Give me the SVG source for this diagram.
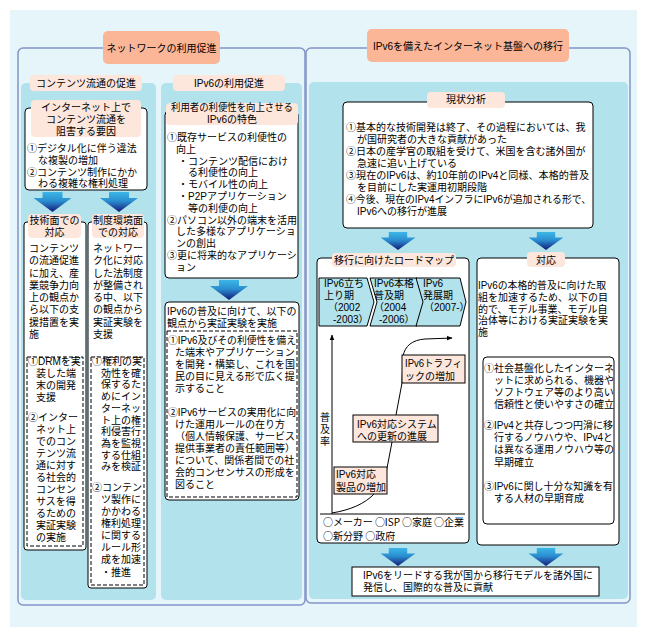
<svg xmlns="http://www.w3.org/2000/svg" width="647" height="637" viewBox="0 0 647 637">
<style>
.t{font-family:"Liberation Sans","Noto Sans CJK JP","Noto Sans CJK SC",sans-serif;font-size:10px;fill:#000}
.j{font-family:"Noto Sans CJK JP","Noto Sans CJK SC",sans-serif;font-size:10px;fill:#000}
.c{text-anchor:middle}
.frame{fill:none;stroke:#8394c8;stroke-width:1.5}
.sub{fill:#b2e2ec}
.title{fill:#fbb698}
.pill{fill:#fde6dc}
.box{fill:#fff;stroke:#000;stroke-width:1}
.dash{fill:none;stroke:#000;stroke-width:1;stroke-dasharray:4 2}
.rbox{fill:#fde6dc;stroke:#000;stroke-width:1}
.chev{fill:#b2e2ec;stroke:#000;stroke-width:1}
.ln{fill:none;stroke:#000;stroke-width:1}
</style>
<defs>
<linearGradient id="ag" x1="0" y1="0" x2="0" y2="1">
<stop offset="0" stop-color="#3cb6e6"/>
<stop offset="0.45" stop-color="#2a8ed0"/>
<stop offset="1" stop-color="#141a78"/>
</linearGradient>
<path id="arr" d="M-10,0 H10 V6 H19 L0,20 L-19,6 H-10 Z" fill="url(#ag)"/>
<marker id="mh" viewBox="0 0 10 10" refX="9" refY="5" markerWidth="6" markerHeight="6" orient="auto">
<path d="M0,1 L10,5 L0,9 Z" fill="#000"/>
</marker>
</defs>
<rect x="10" y="10" width="627" height="617" fill="#e5f5f9"/>

<g id="left-panel">
<rect class="frame" x="18" y="48" width="287" height="557" rx="5"/>
<rect class="sub" x="21" y="83" width="135" height="517" rx="5"/>
<rect class="sub" x="161" y="83" width="141" height="517" rx="5"/>
<rect class="title" x="103" y="31" width="117" height="33" rx="5"/>
<text class="t c" x="161.5" y="52">ネットワークの利用促進</text>
</g>

<g id="right-panel">
<rect class="frame" x="306" y="48" width="324" height="555" rx="5"/>
<rect class="sub" x="309" y="82" width="319" height="517" rx="5"/>
<rect class="title" x="367" y="29" width="202" height="33" rx="5"/>
<text class="t c" x="468" y="50">IPv6を備えたインターネット基盤への移行</text>
</g>

<g id="label-contents">
<rect class="pill" x="30" y="75" width="112" height="16" rx="4"/>
<text class="t c" x="86" y="87">コンテンツ流通の促進</text>
</g>
<g id="label-ipv6use">
<rect class="pill" x="173" y="75" width="112" height="16" rx="4"/>
<text class="t c" x="229" y="87">IPv6の利用促進</text>
</g>

<g id="node-obstacles">
<rect class="box" x="25" y="108" width="122" height="82" rx="4"/>
<rect class="pill" x="31" y="100" width="110" height="37" rx="4"/>
<text class="t c"><tspan x="86" y="111">インターネット上で</tspan><tspan x="86" y="123">コンテンツ流通を</tspan><tspan x="86" y="135">阻害する要因</tspan></text>
<text class="t"><tspan x="27" y="152">①デジタル化に伴う違法</tspan><tspan x="38" y="163.8">な複製の増加</tspan><tspan x="27" y="175.6">②コンテンツ制作にかか</tspan><tspan x="38" y="187.4">わる複雑な権利処理</tspan></text>
</g>

<g id="node-tech">
<rect class="box" x="24" y="222" width="62" height="328" rx="3"/>
<rect class="pill" x="28" y="214" width="53" height="24" rx="4"/>
<text class="t c"><tspan x="54.5" y="224">技術面での</tspan><tspan x="54.5" y="236">対応</tspan></text>
<text class="t"><tspan x="29" y="252">コンテンツ</tspan><tspan x="29" y="264">の流通促進</tspan><tspan x="29" y="277">に加え、産</tspan><tspan x="29" y="289">業競争力向</tspan><tspan x="29" y="301">上の観点か</tspan><tspan x="29" y="313">ら以下の支</tspan><tspan x="29" y="326">援措置を実</tspan><tspan x="29" y="338">施</tspan></text>
<rect class="dash" x="27" y="357" width="56" height="189"/>
<text class="t"><tspan x="28" y="365">①DRMを実</tspan><tspan x="36" y="377">装した端</tspan><tspan x="36" y="389">末の開発</tspan><tspan x="36" y="401">支援</tspan><tspan x="28" y="421">②インター</tspan><tspan x="36" y="433">ネット上</tspan><tspan x="36" y="445">でのコン</tspan><tspan x="36" y="457">テンツ流</tspan><tspan x="36" y="469">通に対す</tspan><tspan x="36" y="481">る社会的</tspan><tspan x="36" y="493">コンセン</tspan><tspan x="36" y="505">サスを得</tspan><tspan x="36" y="517">るための</tspan><tspan x="36" y="529">実証実験</tspan><tspan x="36" y="541">の実施</tspan></text>
</g>

<g id="node-law">
<rect class="box" x="88" y="222" width="59" height="366" rx="3"/>
<rect class="pill" x="92" y="214" width="52" height="24" rx="4"/>
<text class="t c"><tspan x="118" y="224">制度環境面</tspan><tspan x="118" y="236">での対応</tspan></text>
<text class="t"><tspan x="93" y="252">ネットワー</tspan><tspan x="93" y="264">ク化に対応</tspan><tspan x="93" y="277">した法制度</tspan><tspan x="93" y="289">が整備され</tspan><tspan x="93" y="301">る中、以下</tspan><tspan x="93" y="313">の観点から</tspan><tspan x="93" y="326">実証実験を</tspan><tspan x="93" y="338">支援</tspan></text>
<rect class="dash" x="91" y="357" width="53" height="228"/>
<text class="t"><tspan x="92" y="365">①権利の実</tspan><tspan x="101" y="376.7">効性を確</tspan><tspan x="101" y="388.4">保するた</tspan><tspan x="101" y="400.1">めにイン</tspan><tspan x="101" y="411.8">ターネッ</tspan><tspan x="101" y="423.5">ト上の権</tspan><tspan x="101" y="435.2">利侵害行</tspan><tspan x="101" y="446.9">為を監視</tspan><tspan x="101" y="458.6">する仕組</tspan><tspan x="101" y="470.3">みを検証</tspan></text>
<text class="t"><tspan x="92" y="491">②コンテン</tspan><tspan x="101" y="503">ツ製作に</tspan><tspan x="101" y="515">かかわる</tspan><tspan x="101" y="527">権利処理</tspan><tspan x="101" y="539">に関する</tspan><tspan x="101" y="551">ルール形</tspan><tspan x="101" y="563">成を加速</tspan><tspan x="101" y="576">・推進</tspan></text>
</g>

<g id="node-features">
<rect class="box" x="165" y="111" width="133" height="167" rx="4"/>
<rect class="pill" x="166" y="103" width="132" height="22" rx="4"/>
<text class="t c"><tspan x="232" y="110.5" textLength="122" lengthAdjust="spacingAndGlyphs">利用者の利便性を向上させる</tspan><tspan x="232" y="122.5">IPv6の特色</tspan></text>
<text class="t"><tspan x="167" y="141">①既存サービスの利便性の</tspan><tspan x="176" y="152.8">向上</tspan><tspan x="178" y="164.6">・コンテンツ配信におけ</tspan><tspan x="188" y="176.4">る利便性の向上</tspan><tspan x="178" y="188.2">・モバイル性の向上</tspan><tspan x="178" y="200">・P2Pアプリケーション</tspan><tspan x="188" y="211.8">等の利便の向上</tspan><tspan x="167" y="223.6">②パソコン以外の端末を活用</tspan><tspan x="176" y="235.4">した多様なアプリケーショ</tspan><tspan x="176" y="247.2">ンの創出</tspan><tspan x="167" y="259">③更に将来的なアプリケーシ</tspan><tspan x="176" y="270.8">ョン</tspan></text>
</g>

<g id="node-ipv6-experiments">
<rect class="box" x="165" y="302" width="134" height="198" rx="4"/>
<text class="t"><tspan x="167" y="315">IPv6の普及に向けて、以下の</tspan><tspan x="167" y="327">観点から実証実験を実施</tspan></text>
<rect class="dash" x="167" y="331" width="130" height="166"/>
<text class="t"><tspan x="168" y="344" textLength="128" lengthAdjust="spacingAndGlyphs">①IPv6及びその利便性を備え</tspan><tspan x="175" y="356">た端末やアプリケーション</tspan><tspan x="175" y="368">を開発・構築し、これを国</tspan><tspan x="175" y="380">民の目に見える形で広く提</tspan><tspan x="175" y="392">示すること</tspan></text>
<text class="t"><tspan x="168" y="416" textLength="128" lengthAdjust="spacingAndGlyphs">②IPv6サービスの実用化に向</tspan><tspan x="175" y="428">けた運用ルールの在り方</tspan><tspan x="175" y="440">（個人情報保護、サービス</tspan><tspan x="175" y="452">提供事業者の責任範囲等）</tspan><tspan x="175" y="464">について、関係者間での社</tspan><tspan x="175" y="476">会的コンセンサスの形成を</tspan><tspan x="175" y="488">図ること</tspan></text>
</g>

<g id="node-status">
<rect class="box" x="343" y="102" width="250" height="126" rx="4"/>
<rect class="pill" x="427" y="92" width="78" height="16" rx="4"/>
<text class="t c" x="466" y="103">現状分析</text>
<text class="t"><tspan x="346" y="131">①基本的な技術開発は終了、その過程においては、我</tspan><tspan x="357" y="143">が国研究者の大きな貢献があった</tspan><tspan x="346" y="155">②日本の産学官の取組を受けて、米国を含む諸外国が</tspan><tspan x="357" y="167">急速に追い上げている</tspan><tspan x="346" y="179" textLength="243" lengthAdjust="spacingAndGlyphs">③現在のIPv6は、約10年前のIPv4と同様、本格的普及</tspan><tspan x="357" y="191">を目前にした実運用初期段階</tspan><tspan x="346" y="203" textLength="245" lengthAdjust="spacingAndGlyphs">④今後、現在のIPv4インフラにIPv6が追加される形で、</tspan><tspan x="357" y="215">IPv6への移行が進展</tspan></text>
</g>

<g id="node-roadmap">
<rect class="box" x="317" y="258" width="152" height="285" rx="4"/>
<rect class="pill" x="332" y="253" width="124" height="14" rx="4"/>
<text class="t c" x="394" y="264">移行に向けたロードマップ</text>
<polygon class="chev" points="319,278 367,278 374,302 367,326 319,326"/>
<polygon class="chev" points="370,278 417,278 424,302 417,326 370,326 377,302"/>
<polygon class="chev" points="416,278 460,278 466,302 460,326 416,326 423,302"/>
<text class="t"><tspan x="324" y="287">IPv6立ち</tspan><tspan x="324" y="299">上り期</tspan><tspan x="328" y="311">（2002</tspan><tspan x="333" y="323">-2003）</tspan></text>
<text class="t"><tspan x="374" y="287">IPv6本格</tspan><tspan x="374" y="299">普及期</tspan><tspan x="374" y="311">（2004</tspan><tspan x="379" y="323">-2006）</tspan></text>
<text class="t"><tspan x="423" y="287">IPv6</tspan><tspan x="423" y="299">発展期</tspan><tspan x="424" y="311">（2007-）</tspan></text>
<text class="t c"><tspan x="325" y="421">普</tspan><tspan x="325" y="433">及</tspan><tspan x="325" y="445">率</tspan></text>
<text class="j"><tspan x="323" y="525.5" textLength="141" lengthAdjust="spacing">○メーカー ○ISP ○家庭 ○企業</tspan><tspan x="323" y="540">○新分野 ○政府</tspan></text>
</g>

<g id="connectors">
<use href="#arr" x="52.5" y="192"/>
<use href="#arr" x="119" y="192"/>
<use href="#arr" x="229" y="280"/>
<use href="#arr" transform="translate(398,232) scale(0.92,0.9)"/>
<use href="#arr" transform="translate(546,232) scale(0.92,0.9)"/>
<use href="#arr" transform="translate(398,548) scale(0.92,0.9)"/>
<use href="#arr" transform="translate(546,548) scale(0.92,0.9)"/>
<line class="ln" x1="320" y1="514" x2="465" y2="514"/>
<line class="ln" x1="332" y1="514" x2="332" y2="335" marker-end="url(#mh)"/>
<path class="ln" d="M332,513 C350,510 365,504 375,493 C382,485 386,475 388,463 L392,442 L396,415 L402,383 L403,356 C405,346 412,340 425,339 L452,338" marker-end="url(#mh)"/>
</g>

<g id="node-traffic">
<rect class="rbox" x="402" y="355" width="63" height="28"/>
<text class="t"><tspan x="405" y="367" textLength="57" lengthAdjust="spacingAndGlyphs">IPv6トラフィ</tspan><tspan x="405" y="380">ックの増加</tspan></text>
</g>
<g id="node-system">
<rect class="rbox" x="353" y="415" width="85" height="27"/>
<text class="t"><tspan x="357" y="428">IPv6対応システム</tspan><tspan x="357" y="440">への更新の進展</tspan></text>
</g>
<g id="node-products">
<rect class="rbox" x="334" y="467" width="53" height="27"/>
<text class="t"><tspan x="336" y="478">IPv6対応</tspan><tspan x="336" y="491">製品の増加</tspan></text>
</g>

<g id="node-response">
<rect class="box" x="477" y="258" width="142" height="287" rx="4"/>
<rect class="pill" x="527" y="252" width="38" height="15" rx="4"/>
<text class="t c" x="546" y="264">対応</text>
<text class="t"><tspan x="478" y="289" textLength="128" lengthAdjust="spacingAndGlyphs">IPv6の本格的普及に向けた取</tspan><tspan x="478" y="300.8">組を加速するため、以下の目</tspan><tspan x="478" y="312.6">的で、モデル事業、モデル自</tspan><tspan x="478" y="324.4">治体等における実証実験を実</tspan><tspan x="478" y="336.2">施</tspan></text>
<rect class="box" x="483" y="357" width="131" height="167" rx="4"/>
<text class="t"><tspan x="484" y="372">①社会基盤化したインターネ</tspan><tspan x="494" y="384">ットに求められる、機器や</tspan><tspan x="494" y="396">ソフトウェア等のより高い</tspan><tspan x="494" y="408">信頼性と使いやすさの確立</tspan></text>
<text class="t"><tspan x="484" y="429" textLength="129" lengthAdjust="spacingAndGlyphs">②IPv4と共存しつつ円滑に移</tspan><tspan x="494" y="441" textLength="119" lengthAdjust="spacingAndGlyphs">行するノウハウや、IPv4と</tspan><tspan x="494" y="453">は異なる運用ノウハウ等の</tspan><tspan x="494" y="466">早期確立</tspan></text>
<text class="t"><tspan x="484" y="490" textLength="129" lengthAdjust="spacingAndGlyphs">③IPv6に関し十分な知識を有</tspan><tspan x="494" y="502">する人材の早期育成</tspan></text>
</g>

<g id="node-goal">
<rect class="box" x="352" y="567" width="247" height="29"/>
<text class="t"><tspan x="363" y="579" textLength="230" lengthAdjust="spacingAndGlyphs">IPv6をリードする我が国から移行モデルを諸外国に</tspan><tspan x="363" y="591">発信し、国際的な普及に貢献</tspan></text>
</g>
</svg>
